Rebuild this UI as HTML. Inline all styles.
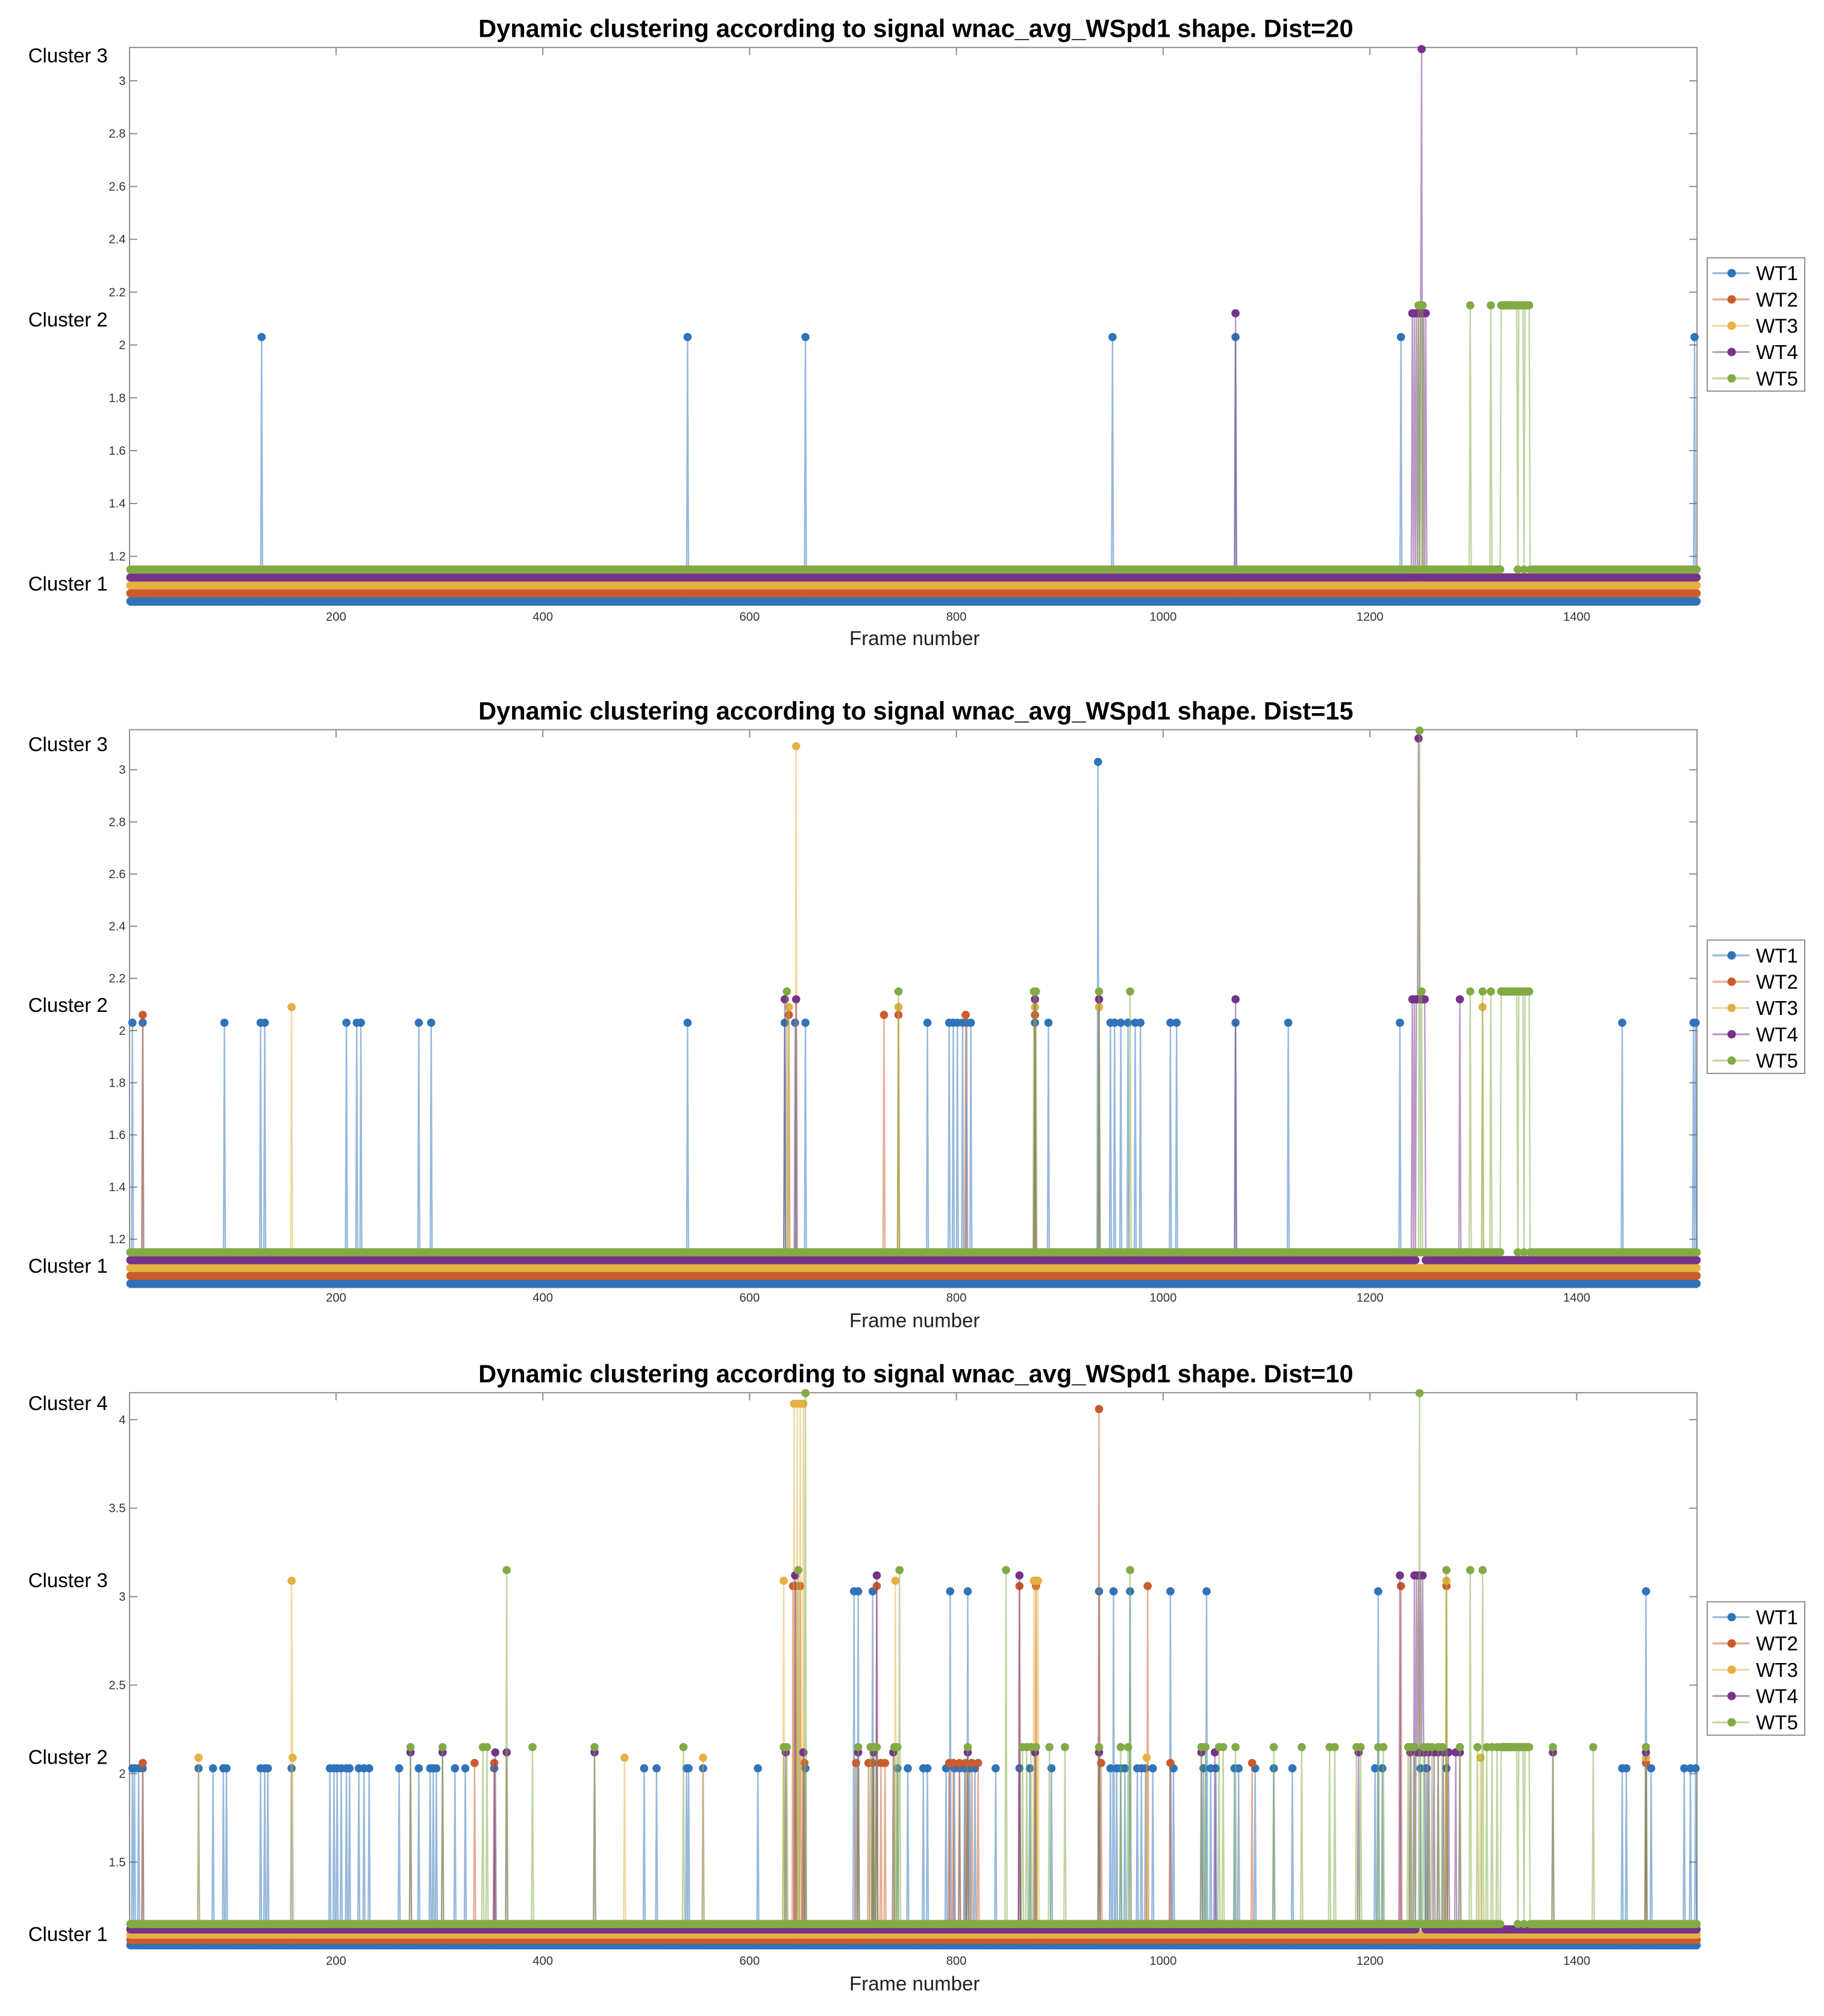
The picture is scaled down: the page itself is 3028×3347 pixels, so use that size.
<!DOCTYPE html>
<html><head><meta charset="utf-8">
<style>
html,body{margin:0;padding:0;background:#fff;}
svg{display:block;}
text{font-family:"Liberation Sans",Arial,sans-serif;}
</style></head>
<body>
<svg id="fig" xmlns="http://www.w3.org/2000/svg" width="3028" height="3347" viewBox="0 0 1422 1572" preserveAspectRatio="none">
<rect x="0" y="0" width="1422" height="1572" fill="#fff"/>
</svg>
<script>
// ---------- data (frame, cluster); plain number = cluster 2; [a,b,c] = range a..b in cluster c ----------
const frameCount = 1516;
const seriesNames = ['WT1','WT2','WT3','WT4','WT5'];
const xTicks = [200,400,600,800,1000,1200,1400];
const yTicks12 = [1.2,1.4,1.6,1.8,2,2.2,2.4,2.6,2.8,3];
const yTicks3 = [1.5,2,2.5,3,3.5,4];
const titles = ['Dynamic clustering according to signal wnac_avg_WSpd1 shape. Dist=20',
                'Dynamic clustering according to signal wnac_avg_WSpd1 shape. Dist=15',
                'Dynamic clustering according to signal wnac_avg_WSpd1 shape. Dist=10'];

const p20_wt1 = [128,540,654,951,1070,1230,1514];
const p20_wt2 = [];
const p20_wt3 = [];
const p20_wt4 = [1070,1241,1243,1245,1247,1249,[1250,3],1252,1254];
const p20_wt5 = [1247,1249,1251,1297,1317,[1327,1342,2],[1344,1348,2],[1350,1354,2]];

const p15_wt1 = [3,13,92,127,131,210,220,224,280,292,540,634,644,654,772,793,797,801,806,810,814,876,889,[937,3],949,953,959,966,973,978,1007,1013,1070,1121,1229,1444,1513,1515];
const p15_wt2 = [13,638,730,744,809,876];
const p15_wt3 = [157,638,[645,3],744,876,938,1309];
const p15_wt4 = [[1245,1252,2],634,645,876,938,1070,1241,1243,[1247,3],1253,1287];
const p15_wt5 = [636,744,875,877,938,968,[1248,3],1250,1297,1309,1317,[1327,1342,2],[1344,1348,2],[1350,1354,2]];

const p10_wt1 = [3,5,9,13,67,81,91,94,127,131,134,157,194,198,201,205,210,213,222,227,232,261,280,291,294,297,315,325,353,498,510,539,541,555,608,654,[701,3],[705,3],[719,3],743,753,768,772,790,[794,3],798,803,808,[811,3],813,818,838,861,871,892,[938,3],949,[952,3],955,959,963,[968,3],975,979,983,990,[1007,3],1010,1039,[1042,3],1046,1051,1069,1073,1089,1107,1125,1205,[1208,3],1212,1249,1255,1274,1444,1448,[1467,3],1472,1504,1510,1515];
const p10_wt2 = [13,334,353,[642,3],[645,3],[649,3],653,703,715,719,727,731,[723,3],793,797,803,809,815,821,[861,3],[877,3],[938,4],940,[985,3],1007,1086,[1230,3],[1274,3],1467];
const p10_wt3 = [67,[157,3],158,479,555,[633,3],[643,4],[646,4],[649,4],[652,4],[741,3],[875,3],[877,3],[879,3],984,[1274,3],1307,1467];
const p10_wt4 = [[1245,1252,2],272,303,354,365,450,635,[644,3],652,705,720,[723,3],739,811,[861,3],876,938,1037,1050,1189,[1229,3],1239,[1243,3],[1245,3],[1247,3],[1249,3],[1251,3],1253,1257,1262,1266,1271,1276,1283,1287,1377,1467];
const p10_wt5 = [272,303,342,346,[365,3],390,450,536,633,636,[647,3],[654,4],705,717,720,723,740,743,[745,3],811,[848,3],864,868,872,877,890,905,938,959,966,[968,3],1037,1041,1054,1058,1070,1107,1134,1161,1166,1187,1191,1208,1213,1237,1240,1243,[1248,4],1252,1256,1260,1266,1270,[1274,3],1287,[1297,3],1304,[1309,3],1313,1318,1323,[1327,1342,2],[1344,1348,2],[1350,1354,2],1377,1416,1467];

const plotSeries = [
  [p20_wt1,p20_wt2,p20_wt3,p20_wt4,p20_wt5],
  [p15_wt1,p15_wt2,p15_wt3,p15_wt4,p15_wt5],
  [p10_wt1,p10_wt2,p10_wt3,p10_wt4,p10_wt5]
];
const clusterLabels = [[1,2,3],[1,2,3],[1,2,3,4]];

// ---------- layout ----------
const colors = ['#2f73ba','#cc5a2c','#e4b142','#76338a','#82ab45'];
const layouts = [
  {top:37, bottom:472, y1:475, perUnit:206, ticks:yTicks12, fmt:v=>String(+v.toFixed(1)), labOff:-20, titleY:23, tickLabY:481, xlabY:498, legTop:201},
  {top:569, bottom:1004, y1:1007, perUnit:203.4, ticks:yTicks12, fmt:v=>String(+v.toFixed(1)), labOff:-20, titleY:555, tickLabY:1012, xlabY:1030, legTop:733},
  {top:1086, bottom:1519, y1:1521, perUnit:138, ticks:yTicks3, fmt:v=>String(+v.toFixed(1)), labOff:-13, titleY:1072, tickLabY:1529, xlabY:1547, legTop:1249}
];
const L = 101, R = 1323;
const xs = f => 100.8 + 0.806*f;
const NS = 'http://www.w3.org/2000/svg';
const svg = document.getElementById('fig');
function mk(tag, attrs, parent){
  const e = document.createElementNS(NS, tag);
  for (const k in attrs) e.setAttribute(k, attrs[k]);
  (parent||svg).appendChild(e);
  return e;
}

layouts.forEach((lay, pi) => {
  const ys = v => lay.y1 - (v-1)*lay.perUnit;
  const g = mk('g', {});
  
  

  const t = mk('text', {x:714, y:lay.titleY+6, 'text-anchor':'middle', 'font-size':19.5, 'font-weight':'bold', fill:'#000'}, g);
  t.textContent = titles[pi];
  
  

  const box = mk('rect', {x:L, y:lay.top, width:R-L, height:lay.bottom-lay.top, fill:'none', stroke:'#8a8a8a', 'stroke-width':0.9}, g);
  
  

  xTicks.forEach(v => {
    const x = xs(v);
    mk('line', {x1:x, x2:x, y1:lay.bottom, y2:lay.bottom-6, stroke:'#8a8a8a', 'stroke-width':0.9}, g);
    mk('line', {x1:x, x2:x, y1:lay.top, y2:lay.top+6, stroke:'#8a8a8a', 'stroke-width':0.9}, g);
    const tl = mk('text', {x:x, y:lay.tickLabY+3, 'text-anchor':'middle', 'font-size':9.5, fill:'#333'}, g);
    tl.textContent = v;
    
    
  });
  lay.ticks.forEach(v => {
    const y = ys(v);
    mk('line', {x1:L, x2:L+6, y1:y, y2:y, stroke:'#8a8a8a', 'stroke-width':0.9}, g);
    mk('line', {x1:R, x2:R-6, y1:y, y2:y, stroke:'#8a8a8a', 'stroke-width':0.9}, g);
    const tl = mk('text', {x:L-3, y:y+3.2, 'text-anchor':'end', 'font-size':9.5, fill:'#333'}, g);
    tl.textContent = lay.fmt(v);
    
    
  });
  clusterLabels[pi].forEach(c => {
    const cl = mk('text', {x:22, y:ys(c)+lay.labOff+5.5, 'font-size':15.5, fill:'#000'}, g);
    cl.textContent = 'Cluster ' + c;
    
    
  });
  const xl = mk('text', {x:713, y:lay.xlabY+5, 'text-anchor':'middle', 'font-size':15.5, fill:'#222'}, g);
  xl.textContent = 'Frame number';
  
  

  const r = 3.2;
  plotSeries[pi].forEach((events, si) => {
    const vals = new Array(frameCount+1).fill(1);
    events.forEach(ev => {
      if (typeof ev === 'number') vals[ev] = 2;
      else if (ev.length === 2) vals[ev[0]] = ev[1];
      else for (let f = ev[0]; f <= ev[1]; f++) vals[f] = ev[2];
    });
    const off = 0.03*(si+1);
    const sg = mk('g', {}, g);
    
    
    let pts = [];
    for (let f = 1; f <= frameCount; f++) pts.push(xs(f).toFixed(2) + ',' + ys(vals[f]+off).toFixed(2));
    const pl = mk('polyline', {points:pts.join(' '), fill:'none', stroke:colors[si], 'stroke-opacity':0.5, 'stroke-width':1.1}, sg);
    
    
    let f = 1;
    while (f <= frameCount) {
      if (vals[f] === 1) {
        let a = f;
        while (f+1 <= frameCount && vals[f+1] === 1) f++;
        const band = mk('line', {x1:xs(a), x2:xs(f), y1:ys(1+off), y2:ys(1+off), stroke:colors[si], 'stroke-width':2*r, 'stroke-linecap':'round'}, sg);
        
        
      }
      f++;
    }
    for (let k = 1; k <= frameCount; k++) {
      if (vals[k] !== 1) {
        const c = mk('circle', {cx:xs(k), cy:ys(vals[k]+off), r:r, fill:colors[si]}, sg);
        
        
      }
    }
  });

  const lg = mk('g', {}, g);
  
  
  mk('rect', {x:1331, y:lay.legTop, width:76, height:104, fill:'#fff', stroke:'#8a8a8a', 'stroke-width':0.9}, lg);
  seriesNames.forEach((nm, si) => {
    const y = lay.legTop + 12 + si*20.5;
    const le = mk('g', {}, lg);
    
    
    mk('line', {x1:1335, x2:1364, y1:y, y2:y, stroke:colors[si], 'stroke-opacity':0.5, 'stroke-width':1.5}, le);
    mk('circle', {cx:1350, cy:y, r:3.3, fill:colors[si]}, le);
    const tx = mk('text', {x:1369, y:y+5.5, 'font-size':15.5, fill:'#000'}, le);
    tx.textContent = nm;
  });
});
</script>
</body></html>
